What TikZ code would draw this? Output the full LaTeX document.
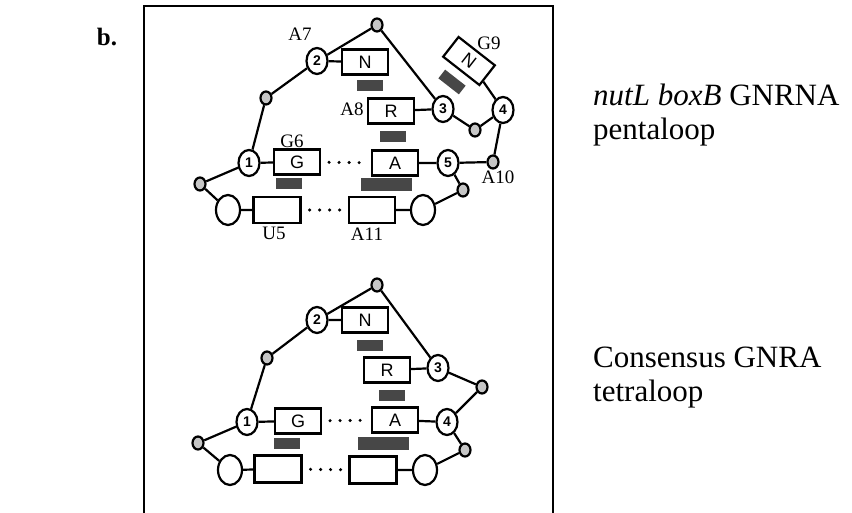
\documentclass[tikz,border=0pt]{standalone}
\usepackage{fontspec}
\setmainfont{Liberation Serif}
\setsansfont{Liberation Sans}
\usetikzlibrary{shapes.geometric}
\begin{document}
\begin{tikzpicture}[x=1pt,y=-1pt,
  conn/.style={line width=2.2pt},
  nuc/.style={ellipse,draw,line width=2.2pt,fill=white,minimum width=21pt,minimum height=26pt,inner sep=0pt,font=\fontsize{14}{14}\selectfont\sffamily\bfseries},
  bignuc/.style={ellipse,draw,line width=2.2pt,fill=white,minimum width=24pt,minimum height=30pt,inner sep=0pt},
  phos/.style={ellipse,draw,line width=2.2pt,fill=gray!45,minimum width=11pt,minimum height=13pt,inner sep=0pt},
  base/.style={rectangle,draw,line width=2.2pt,fill=white,minimum width=46pt,minimum height=25pt,inner sep=0pt,font=\fontsize{18}{18}\selectfont\sffamily},
  stack/.style={rectangle,fill=black!72,minimum width=26pt,minimum height=11pt,inner sep=0pt},
  lbl/.style={font=\fontsize{19}{19}\selectfont,inner sep=0pt},
  capt/.style={font=\fontsize{31}{34}\selectfont,anchor=base west,inner sep=0pt},
  dots/.style={line width=3.4pt,line cap=round,dash pattern=on 0pt off 10pt,shorten <=8pt,shorten >=6pt}
]
\useasboundingbox (0,0) rectangle (852,513);
% frame
\coordinate (fbl) at (144,515);
\coordinate (ftl) at (144,6);
\coordinate (ftr) at (553,6);
\coordinate (fbr) at (553,515);
\draw[line width=2.2pt] (fbl) -- (ftl) -- (ftr) -- (fbr);
\node[font=\fontsize{25}{25}\selectfont\bfseries,inner sep=0pt] (blabel) at (107,37) {b.};

% ---------------- top: pentaloop ----------------
\node[phos] (pT) at (377,25) {};
\node[nuc] (n2) at (317,61) {2};
\node[base] (N) at (365,62) {N};
\node[stack] (s1) at (370,86) {};
\node[base] (R) at (391,111) {R};
\node[nuc] (n3) at (443,109) {3};
\node[base,rotate=-38] (G9) at (469,61) {N};
\node[stack,rotate=-38] (s2) at (452,82) {};
\node[nuc] (n4) at (503,110) {4};
\node[phos] (p34) at (475,130) {};
\node[phos] (pA10) at (493,162) {};
\node[nuc] (n5) at (448,163) {5};
\node[base] (A) at (395,163) {A};
\node[base] (G) at (297,162) {G};
\node[nuc] (n1) at (249,163) {1};
\node[phos] (pL) at (200,184) {};
\node[phos] (p12) at (266,98) {};
\node[stack] (sRA) at (393,137) {};
\node[stack] (sG) at (289,184) {};
\node[stack,minimum width=51pt,minimum height=13pt] (sA) at (386,185) {};
\node[bignuc] (eL) at (228,210) {};
\node[base,minimum width=47pt,minimum height=26pt] (U5) at (277,210) {};
\node[base,minimum width=46pt,minimum height=26pt] (A11) at (372,210) {};
\node[bignuc] (eR) at (423,210) {};
\node[phos] (pR) at (463,190) {};

\node[lbl] (lA7) at (300,34) {A7};
\node[lbl] (lA8) at (352,109) {A8};
\node[lbl] (lG9) at (489,43) {G9};
\node[lbl] (lG6) at (292,141) {G6};
\node[lbl] (lA10) at (498,177) {A10};
\node[lbl] (lU5) at (274,233) {U5};
\node[lbl] (lA11) at (367,234) {A11};

\draw[conn] (pL) -- (n1) (n1) -- (p12) (p12) -- (n2) (n2) -- (pT) (pT) -- (n3);
\draw[conn] (n2) -- (N) (R) -- (n3) (n3) -- (p34) (p34) -- (n4) (n4) -- (G9);
\draw[conn] (n4) -- (pA10) (pA10) -- (n5) (n5) -- (A) (G) -- (n1);
\draw[conn] (pL) -- (eL) (eL) -- (U5) (A11) -- (eR) (eR) -- (pR) (pR) -- (n5);
\draw[dots] (G) -- (A);
\draw[dots] (U5) -- (A11);

% ---------------- bottom: tetraloop ----------------
\node[phos] (qT) at (377,285) {};
\node[nuc] (m2) at (317,320) {2};
\node[base] (N2) at (365,320) {N};
\node[stack] (t1) at (370,345) {};
\node[base] (R2) at (387,370) {R};
\node[nuc] (m3) at (438,368) {3};
\node[phos] (q34) at (482,387) {};
\node[nuc] (m4) at (447,422) {4};
\node[stack] (tRA) at (392,395) {};
\node[base] (A2) at (395,420) {A};
\node[base] (G2) at (298,421) {G};
\node[nuc] (m1) at (247,422) {1};
\node[phos] (q12) at (267,358) {};
\node[phos] (qL) at (198,443) {};
\node[stack] (tG) at (287,443) {};
\node[stack,minimum width=51pt,minimum height=13pt] (tA) at (383,443) {};
\node[bignuc] (fL) at (230,470) {};
\node[base,minimum width=47pt,minimum height=27pt] (B1) at (278,469) {};
\node[base,minimum width=47pt,minimum height=27pt] (B2) at (373,470) {};
\node[bignuc] (fR) at (425,470) {};
\node[phos] (qR) at (465,450) {};

\draw[conn] (qL) -- (m1) (m1) -- (q12) (q12) -- (m2) (m2) -- (qT) (qT) -- (m3);
\draw[conn] (m2) -- (N2) (R2) -- (m3) (m3) -- (q34) (q34) -- (m4) (m4) -- (A2) (G2) -- (m1);
\draw[conn] (qL) -- (fL) (fL) -- (B1) (B2) -- (fR) (fR) -- (qR) (qR) -- (m4);
\draw[dots] (G2) -- (A2);
\draw[dots] (B1) -- (B2);

% ---------------- captions ----------------
\node[capt] (c1a) at (593,106) {\textit{nutL boxB} GNRNA};
\node[capt] (c1b) at (593,140) {pentaloop};
\node[capt] (c2a) at (593,367) {Consensus GNRA};
\node[capt] (c2b) at (593,401) {tetraloop};
\end{tikzpicture}
\end{document}
